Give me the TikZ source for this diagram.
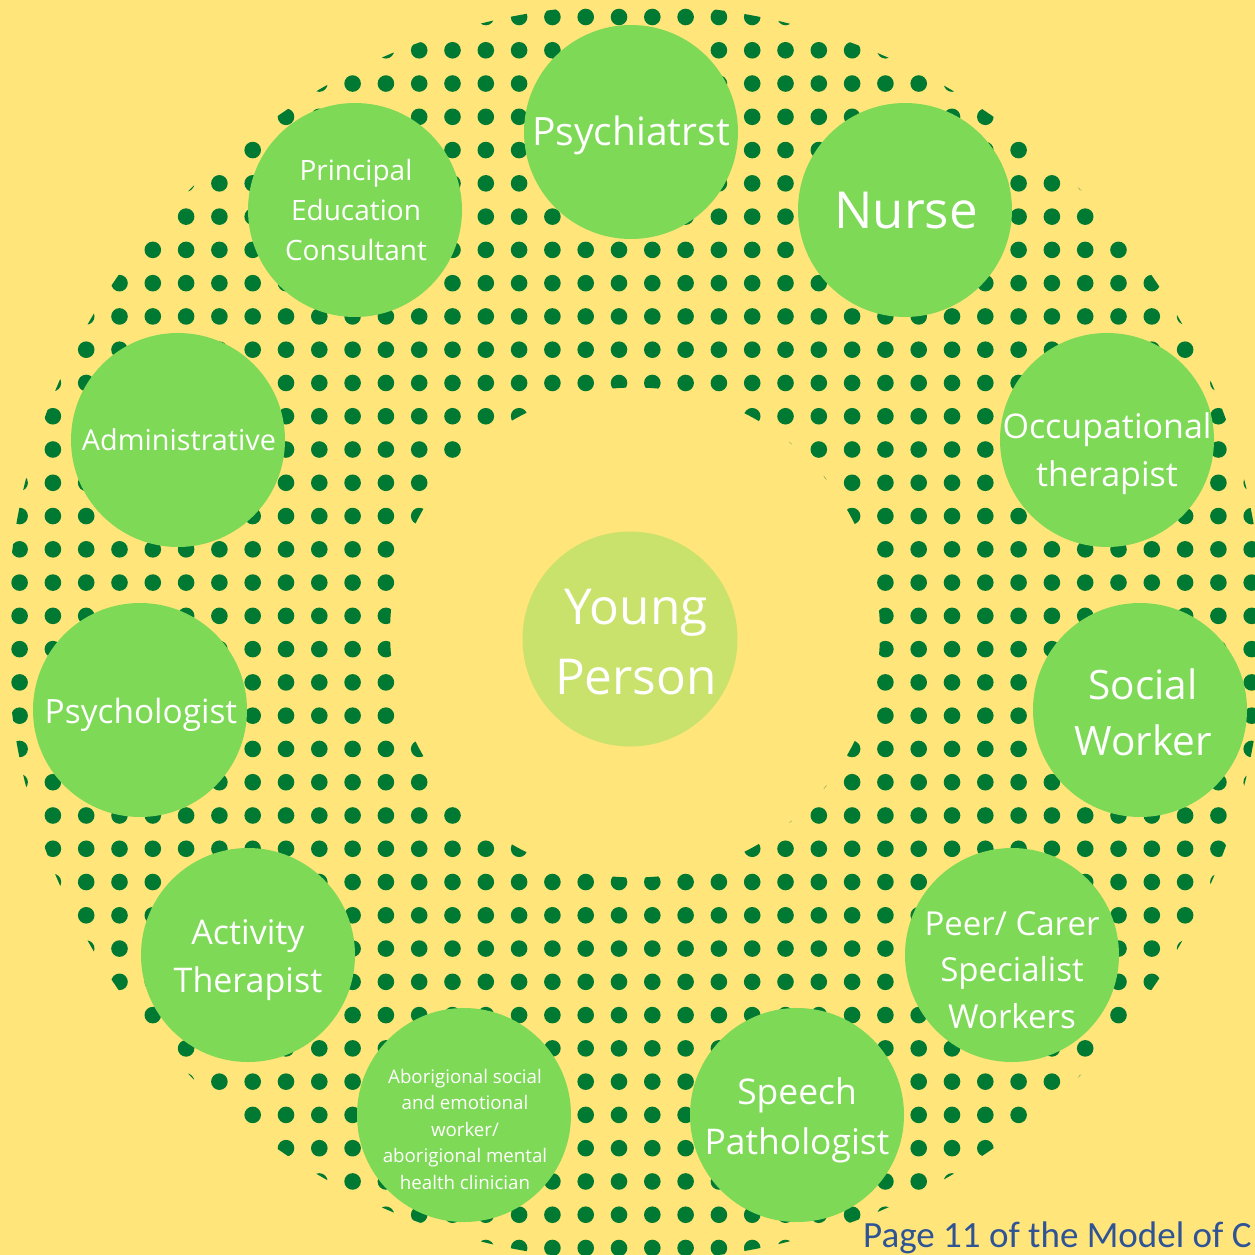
\documentclass[tikz,border=0pt]{standalone}
\usepackage{fontspec}
\setmainfont{Open Sans}
\newfontfamily\pagefont{Carlito}
\definecolor{bgyellow}{RGB}{255,229,122}
\definecolor{dotgreen}{RGB}{0,122,51}
\definecolor{bubgreen}{RGB}{126,217,87}
\definecolor{coregreen}{RGB}{201,226,107}
\definecolor{pageblue}{RGB}{47,84,150}
\begin{document}
\begin{tikzpicture}[x=1pt,y=-1pt,
  bub/.style={circle, fill=bubgreen, minimum size=214pt, inner sep=0pt},
  core/.style={circle, fill=coregreen, minimum size=215pt, inner sep=0pt},
  lbl/.style={text=white, align=center, inner sep=0pt}]
\useasboundingbox (0,0) rectangle (1255,1255);
\fill[bgyellow] (0,0) rectangle (1255,1255);
\clip (0,0) rectangle (1255,1255);
% halftone ring of dots
\begin{scope}[even odd rule]
  \clip (635,632.5) circle[radius=628pt] (635,632.5) circle[radius=245pt];
  \foreach \i in {-19,...,19}{
    \foreach \j in {0,...,37}{
      \fill[dotgreen] (619+33.3*\i,17+33.27*\j) circle[radius=8.3pt];
    }
  }
\end{scope}
% centre
\node[core] (yp) at (630,639) {};
\node[lbl, font=\fontsize{49.5}{70}\selectfont] (ypT) at (636,642) {Young\\Person};
% ring of roles
\node[bub] (psy) at (631,132) {};
\node[lbl, font=\fontsize{39}{47}\selectfont] (psyT) at (631,135) {Psychiatrst};
\node[bub] (nur) at (905,210) {};
\node[lbl, font=\fontsize{51}{60}\selectfont] (nurT) at (906,211) {Nurse};
\node[bub] (pec) at (355,210) {};
\node[lbl, font=\fontsize{28}{40}\selectfont] (pecT) at (356,210) {Principal\\Education\\Consultant};
\node[bub] (adm) at (178,440) {};
\node[lbl, font=\fontsize{28.8}{34}\selectfont] (admT) at (179,440) {Administrative};
\node[bub] (occ) at (1107,440) {};
\node[lbl, font=\fontsize{34}{48}\selectfont] (occT) at (1107,454) {Occupational\\therapist};
\node[bub] (psl) at (140,710) {};
\node[lbl, font=\fontsize{33.4}{40}\selectfont] (pslT) at (141,715) {Psychologist};
\node[bub] (sw) at (1140,710) {};
\node[lbl, font=\fontsize{40.5}{56}\selectfont] (swT) at (1143,712) {Social\\Worker};
\node[bub] (act) at (248,955) {};
\node[lbl, font=\fontsize{34}{48}\selectfont] (actT) at (248,960) {Activity\\Therapist};
\node[bub] (peer) at (1012,955) {};
\node[lbl, font=\fontsize{33}{46.5}\selectfont] (peerT) at (1012,970) {Peer/ Carer\\Specialist\\Workers};
\node[bub] (abo) at (464,1115) {};
\node[lbl, font=\fontsize{18.7}{26.5}\selectfont] (aboT) at (465,1129) {Aborigional social\\and emotional\\worker/\\aborigional mental\\health clinician};
\node[bub] (sp) at (797,1115) {};
\node[lbl, font=\fontsize{35.4}{50}\selectfont] (spT) at (797,1120) {Speech\\Pathologist};
% caption
\node[anchor=base west, inner sep=0pt, text=pageblue, font=\pagefont\fontsize{37}{44}\selectfont] (cap) at (863,1247) {Page 11 of the Model of C};
\end{tikzpicture}
\end{document}
